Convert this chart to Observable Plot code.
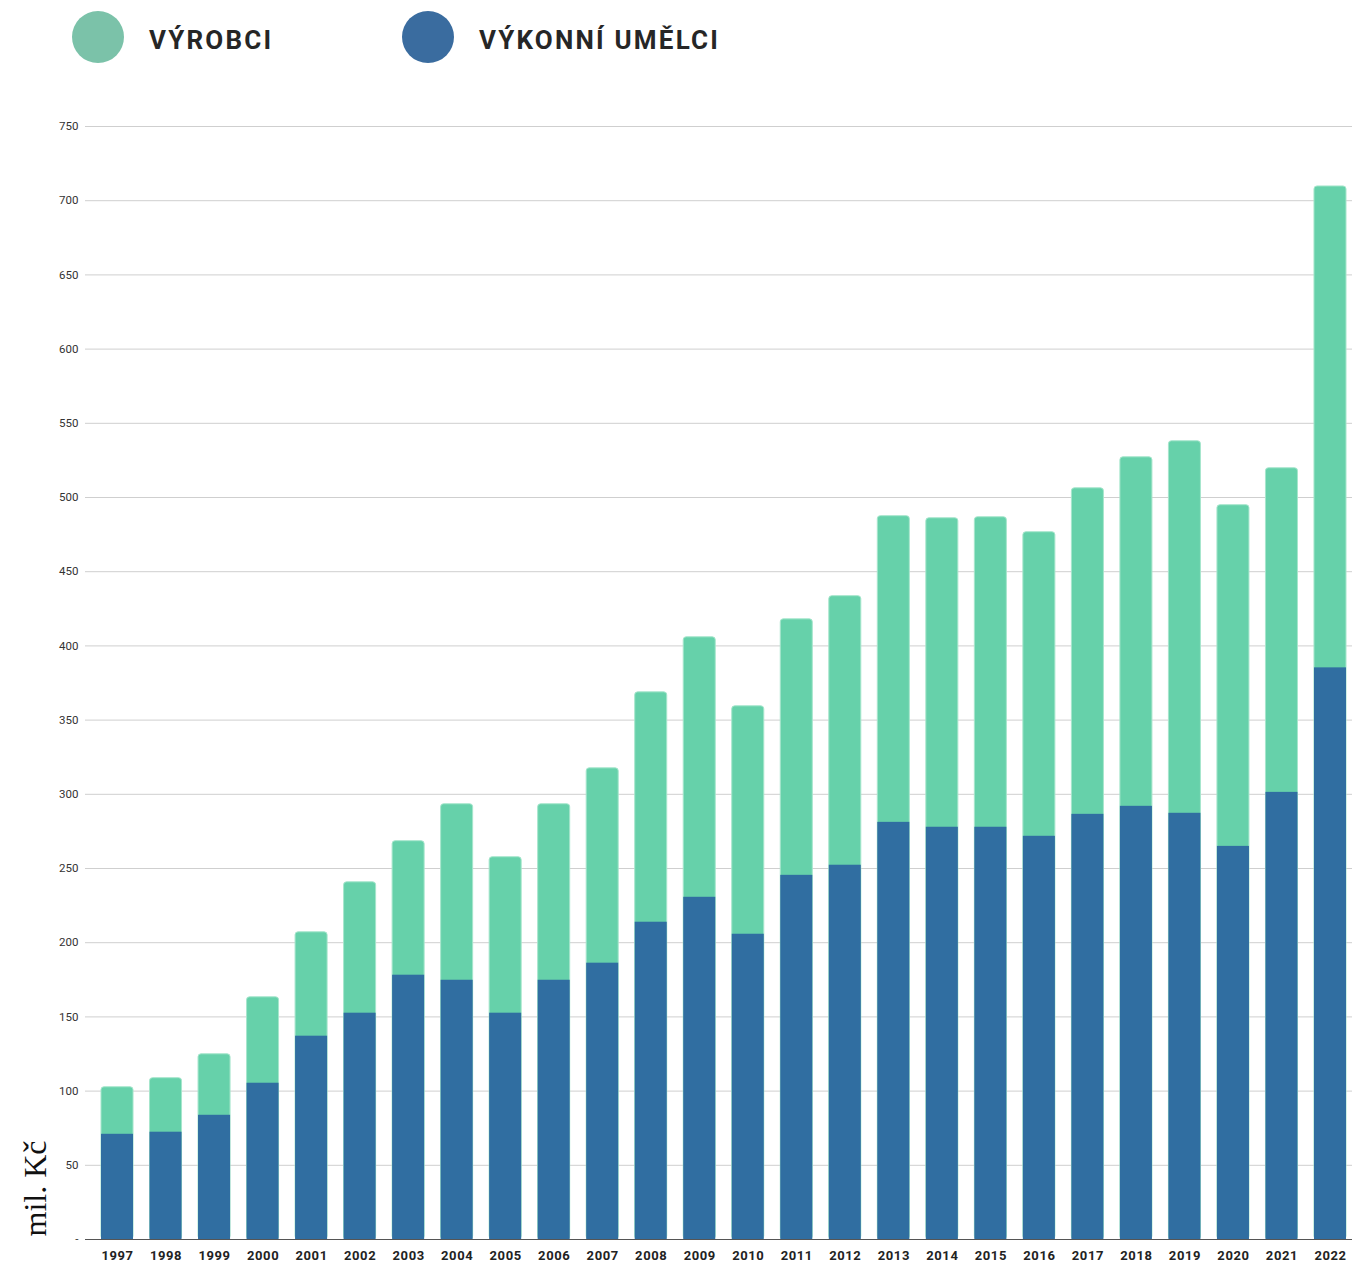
<!DOCTYPE html>
<html>
<head>
<meta charset="utf-8">
<script src="https://cdn.jsdelivr.net/npm/d3@7"></script>
<script src="https://cdn.jsdelivr.net/npm/@observablehq/plot@0.6"></script>
<style>
  html, body { margin: 0; padding: 0; background: #fff; }
  #wrap { position: relative; width: 1352px; height: 1262px; overflow: hidden; }
  .legend { position: absolute; top: 0; left: 0; height: 90px; width: 1352px; font-family: Roboto, "Noto Sans", sans-serif; }
  .sw { position: absolute; width: 52px; height: 52px; border-radius: 50%; top: 11px; }
  .lt { position: absolute; top: 24px; font-size: 26px; font-weight: 700; letter-spacing: 2.2px; color: #262626; line-height: 32px; }
  #chart { position: absolute; top: 90px; left: 0; }
  #chart svg { overflow: visible; }
</style>
</head>
<body>
<div id="wrap">
  <div class="legend">
    <div class="sw" style="left:72px;background:#7bc2a9"></div>
    <div class="lt" style="left:149px">VÝROBCI</div>
    <div class="sw" style="left:402px;background:#3a6c9f"></div>
    <div class="lt" style="left:479px">VÝKONNÍ UMĚLCI</div>
  </div>
  <div id="chart"></div>
</div>
<script>
const years = [1997, 1998, 1999, 2000, 2001, 2002, 2003, 2004, 2005, 2006, 2007, 2008, 2009,
               2010, 2011, 2012, 2013, 2014, 2015, 2016, 2017, 2018, 2019, 2020, 2021, 2022];
// Výkonní umělci (blue, bottom)
const umelci = [70.9, 72.3, 83.7, 105.3, 137.0, 152.5, 178.1, 174.7, 152.5, 174.7, 186.2, 213.8, 230.6,
                205.7, 245.4, 252.2, 281.1, 277.8, 277.8, 271.7, 286.5, 291.9, 287.2, 264.9, 301.3, 385.2];
// Výrobci (green, top)
const vyrobci = [31.7, 36.4, 41.1, 57.9, 70.0, 88.2, 90.3, 118.6, 105.1, 118.6, 131.3, 154.9, 175.2,
                 153.6, 172.5, 181.3, 206.3, 208.2, 208.9, 204.9, 219.7, 235.2, 250.7, 229.9, 218.4, 324.4];
const yTicks = [0, 50, 100, 150, 200, 250, 300, 350, 400, 450, 500, 550, 600, 650, 700, 750];
const yLabel = "mil. Kč";

const rows = years.map((y, i) => ({
  year: String(y),
  umelci: umelci[i],
  vyrobci: vyrobci[i],
  total: umelci[i] + vyrobci[i]
}));

const chart = Plot.plot({
  width: 1352,
  height: 1172,
  marginLeft: 85,
  marginRight: 0,
  marginTop: 36,
  marginBottom: 23,
  style: { fontFamily: "Roboto, 'Noto Sans', sans-serif", color: "#222", background: "transparent" },
  x: { type: "band", domain: years.map(String), range: [84.5, 1362.5], padding: 0.34, round: false },
  y: { domain: [0, 750] },
  marks: [
    Plot.gridY(yTicks, { stroke: "#cfcfcf", strokeOpacity: 1, strokeWidth: 1 }),
    Plot.axisY(yTicks, {
      tickSize: 0, tickPadding: 7, fontSize: 11.5, fill: "#333",
      tickFormat: d => d === 0 ? "-" : String(d), label: null
    }),
    Plot.barY(rows, { x: "year", y1: 0, y2: "total", fill: "#66d1aa", stroke: "#a6e6cc", strokeWidth: 1, rx: 3 }),
    Plot.barY(rows, { x: "year", y1: 0, y2: "umelci", fill: "#306ea1" }),
    Plot.ruleY(rows, { x: "year", y: "umelci", stroke: "#b8ecd6", strokeWidth: 1, strokeOpacity: 0.8 }),
    Plot.ruleY([0], { stroke: "#555", strokeWidth: 1.2 }),
    Plot.axisX({ tickSize: 0, tickPadding: 11, fontSize: 13, fontWeight: "bold", fill: "#222", label: null }),
    Plot.text([yLabel], {
      frameAnchor: "bottom-left", text: d => d, rotate: -90, textAnchor: "start",
      lineAnchor: "middle", dx: -50, dy: -3, fontSize: 32,
      fontFamily: "'Liberation Serif', 'DejaVu Serif', serif", fill: "#111"
    })
  ]
});
chart.querySelectorAll("g[aria-label='x-axis tick label'] text").forEach(t => t.style.letterSpacing = "0.6px");
document.getElementById("chart").appendChild(chart);
</script>
</body>
</html>
